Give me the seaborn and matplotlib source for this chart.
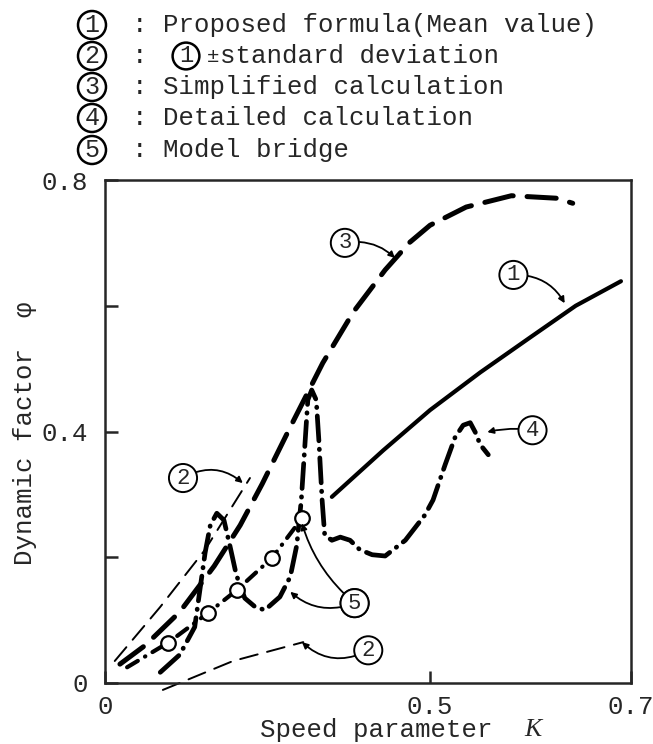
import numpy as np
import pandas as pd
import matplotlib
matplotlib.use("Agg")
import matplotlib.pyplot as plt
import seaborn as sns

# ---------------- data ----------------
# (1) Proposed formula (mean value)
k_formula = [0.349, 0.428, 0.500, 0.550, 0.600, 0.645, 0.690]
phi_formula = [0.296, 0.370, 0.434, 0.494, 0.550, 0.600, 0.639]

# (2) (1) +/- standard deviation
k_sd_upper = [0.015, 0.085, 0.154, 0.223]
phi_sd_upper = [0.035, 0.121, 0.212, 0.326]
k_sd_lower = [0.089, 0.197, 0.305]
phi_sd_lower = [-0.011, 0.035, 0.065]

# (3) Simplified calculation
k_simple = [0.023, 0.062, 0.115, 0.168, 0.208, 0.242, 0.285, 0.335, 0.382,
            0.431, 0.469, 0.500, 0.536, 0.581, 0.626, 0.642]
phi_simple = [0.030, 0.060, 0.113, 0.186, 0.251, 0.317, 0.407, 0.509, 0.590,
              0.657, 0.701, 0.728, 0.757, 0.775, 0.771, 0.763]

# (4) Detailed calculation
k_detail = [0.085, 0.115, 0.138, 0.146, 0.154, 0.162, 0.172, 0.183, 0.192,
            0.202, 0.215, 0.231, 0.246, 0.269, 0.285, 0.295, 0.302, 0.308,
            0.312, 0.318, 0.325, 0.329, 0.334, 0.338, 0.349, 0.362, 0.377,
            0.392, 0.411, 0.431, 0.462, 0.492, 0.503, 0.515, 0.525, 0.533,
            0.540, 0.545, 0.550, 0.558]
phi_detail = [0.017, 0.045, 0.089, 0.148, 0.207, 0.251, 0.270, 0.259, 0.219,
              0.172, 0.135, 0.121, 0.116, 0.137, 0.169, 0.219, 0.291, 0.386,
              0.450, 0.466, 0.450, 0.386, 0.291, 0.235, 0.227, 0.232, 0.227,
              0.212, 0.204, 0.202, 0.227, 0.267, 0.291, 0.347, 0.391, 0.410,
              0.414, 0.399, 0.379, 0.363]

# (5) Model bridge
k_model_line = [0.034, 0.097, 0.158, 0.203, 0.257, 0.303]
phi_model_line = [0.025, 0.064, 0.111, 0.148, 0.199, 0.262]
k_model_pts = [0.097, 0.158, 0.203, 0.257, 0.303]
phi_model_pts = [0.064, 0.111, 0.148, 0.199, 0.262]

legend_labels = ["Proposed formula(Mean value)", "standard deviation",
                 "Simplified calculation", "Detailed calculation", "Model bridge"]
x_ticks = [0, 0.5, 0.7]
x_ticklabels = ["0", "0.5", "0.7"]
y_ticks = [0, 0.2, 0.4, 0.6, 0.8]
y_ticklabels = ["0", "", "0.4", "", "0.8"]

# ---------------- style ----------------
sns.set_style("ticks")
plt.rcParams["font.family"] = ["Liberation Mono", "DejaVu Sans Mono", "DejaVu Sans"]
plt.rcParams["lines.scale_dashes"] = False
FS = 18.5
W, H = 653, 744


def fx(px):
    return px / W


def fy(py):
    return 1 - py / H


fig = plt.figure(figsize=(W / 100, H / 100), dpi=100)
ax = fig.add_axes([fx(105), fy(683), (631 - 105) / W, (683 - 180) / H])

# piecewise linear K axis as drawn in the original
B = 0.6179


def fwd(x):
    x = np.asarray(x, dtype=float)
    return np.where(x <= 0.5, x * B / 0.5, B + (x - 0.5) * (1 - B) / 0.2)


def inv(u):
    u = np.asarray(u, dtype=float)
    return np.where(u <= B, u * 0.5 / B, 0.5 + (u - B) * 0.2 / (1 - B))


ax.set_xscale("function", functions=(fwd, inv))


def line(k, phi, lw, dashes=None, clip=True):
    df = pd.DataFrame({"K": k, "phi": phi})
    sns.lineplot(data=df, x="K", y="phi", ax=ax, sort=False, estimator=None,
                 color="black", lw=lw)
    ln = ax.lines[-1]
    ln.set_solid_capstyle("round")
    ln.set_dash_capstyle("round")
    ln.set_solid_joinstyle("round")
    if dashes is not None:
        ln.set_dashes(dashes)
    ln.set_clip_on(clip)
    return ln


line(k_formula, phi_formula, 3.0)
line(k_sd_upper, phi_sd_upper, 1.4, dashes=(13, 7))
line(k_sd_lower, phi_sd_lower, 1.4, dashes=(13, 7), clip=False)
line(k_simple, phi_simple, 3.6, dashes=(21, 10))
line(k_detail, phi_detail, 3.4, dashes=(18, 6, 0.3, 6))
line(k_model_line, phi_model_line, 3.0, dashes=(9, 6, 0.3, 6))
sns.scatterplot(x=k_model_pts, y=phi_model_pts, ax=ax, s=110, marker="o",
                facecolor="white", edgecolor="black", linewidth=1.6, zorder=5)

ax.set_xlim(0, 0.7)
ax.set_ylim(0, 0.8)
ax.set_xticks(x_ticks)
ax.set_xticklabels(x_ticklabels)
ax.set_yticks(y_ticks)
ax.set_yticklabels(y_ticklabels)
ax.tick_params(axis="both", direction="in", length=9, width=1.8, labelsize=FS,
               top=False, right=False)
ax.tick_params(axis="y", pad=12)
ax.tick_params(axis="x", pad=9)
for s in ax.spines.values():
    s.set_linewidth(1.8)
    s.set_visible(True)
ax.set_xlabel("")
ax.set_ylabel("")

# axis titles
fig.text(fx(25), fy(433), "Dynamic factor  \u03c6", rotation=90, ha="center",
         va="center", fontsize=FS)
fig.text(fx(260), fy(730), "Speed parameter", ha="left", va="center", fontsize=FS)
fig.text(fx(533), fy(730), "K", ha="center", va="center", fontsize=FS,
         family="Liberation Serif", style="italic")

# in-plot circled labels with leaders
circ_kw = dict(boxstyle="circle,pad=0.16", fc="white", ec="black", lw=1.4)


def label(num, txt_xy, tgt_xy, rad):
    ax.annotate(num, xy=tgt_xy, xytext=txt_xy, ha="center", va="center",
                fontsize=16, bbox=circ_kw, zorder=6,
                arrowprops=dict(arrowstyle="-|>", color="black", lw=1.3,
                                connectionstyle=f"arc3,rad={rad}",
                                shrinkA=0, shrinkB=0, mutation_scale=9))


label("3", (0.369, 0.700), (0.446, 0.676), -0.25)
label("1", (0.583, 0.649), (0.634, 0.604), -0.3)
label("4", (0.602, 0.402), (0.557, 0.399), 0.1)
label("2", (0.120, 0.326), (0.212, 0.318), -0.35)
label("5", (0.384, 0.127), (0.303, 0.254), -0.15)
label("5", (0.384, 0.127), (0.285, 0.145), -0.3)
label("2", (0.405, 0.052), (0.303, 0.065), -0.35)

# legend block at the top
rows_y = [25, 56, 87, 118, 150]
leg_kw = dict(boxstyle="circle,pad=0.08", fc="white", ec="black", lw=1.8)
for i, (yy, txt) in enumerate(zip(rows_y, legend_labels)):
    fig.text(fx(92), fy(yy), str(i + 1), ha="center", va="center", fontsize=18,
             bbox=leg_kw)
    fig.text(fx(140), fy(yy), ":", ha="center", va="center", fontsize=FS)
    if i == 1:
        fig.text(fx(186), fy(yy), "1", ha="center", va="center", fontsize=17,
                 bbox=leg_kw)
        fig.text(fx(213), fy(yy), "\u00b1", ha="center", va="center", fontsize=15)
        fig.text(fx(220), fy(yy), txt, ha="left", va="center", fontsize=FS)
    else:
        fig.text(fx(163), fy(yy), txt, ha="left", va="center", fontsize=FS)

fig.savefig("out.png", dpi=100, facecolor="white")
